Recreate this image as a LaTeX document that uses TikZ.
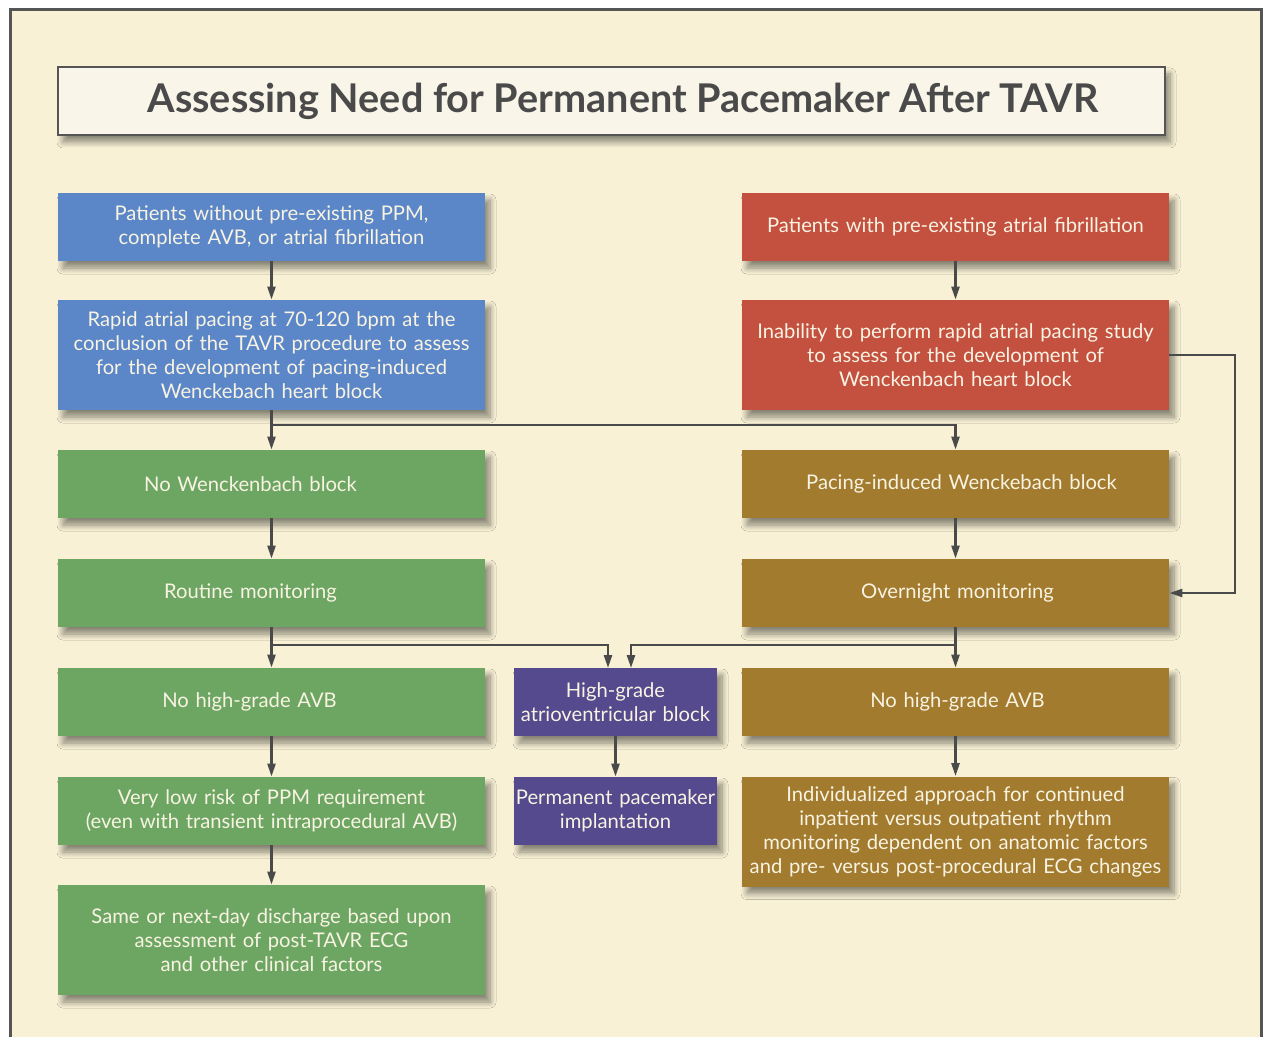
\documentclass[tikz,border=0pt]{standalone}
\usepackage{fontspec}
\setmainfont{Lato}
\usetikzlibrary{arrows.meta,shadows.blur}
\definecolor{bgcream}{HTML}{F8F1D6}
\definecolor{titlefill}{HTML}{FAF5E9}
\definecolor{framegray}{HTML}{555555}
\definecolor{linegray}{HTML}{4A4A4A}
\definecolor{boxtext}{HTML}{F8F3E2}
\definecolor{tavrblue}{HTML}{5B87C8}
\definecolor{tavrred}{HTML}{C4503F}
\definecolor{tavrgreen}{HTML}{6DA663}
\definecolor{tavrbrown}{HTML}{A27B2E}
\definecolor{tavrpurple}{HTML}{544A8D}
\newcommand{\boxfont}{\fontsize{10.1}{12}\selectfont}
\tikzset{
  softshadow/.style={blur shadow={shadow xshift=2.5pt,shadow yshift=-3.5pt,
    shadow blur steps=8,shadow blur radius=3pt,shadow opacity=45}},
  fbox/.style={rectangle,inner xsep=0pt,inner ysep=2pt,align=center,
    text=boxtext,font=\boxfont,minimum height=34pt,text width=213.5pt,softshadow},
  tall/.style={minimum height=55pt},
  narrow/.style={text width=101.5pt},
  bluebox/.style={fbox,fill=tavrblue},
  redbox/.style={fbox,fill=tavrred},
  greenbox/.style={fbox,fill=tavrgreen},
  brownbox/.style={fbox,fill=tavrbrown},
  purplebox/.style={fbox,narrow,fill=tavrpurple},
  link/.style={draw=linegray,line width=1.2pt,-{Triangle[length=6.5pt,width=4pt]}},
  plainlink/.style={draw=linegray,line width=1.2pt}
}
\begin{document}
\begin{tikzpicture}[x=0.5pt,y=-0.5pt]
  \useasboundingbox (0,0) rectangle (1263,1037);
  % paper and frame
  \fill[bgcream] (10,9) rectangle (1262,1037);
  \draw[framegray,line width=1.6pt] (10.5,1040) -- (10.5,9.5) -- (1261.5,9.5) -- (1261.5,1040);

  \node[rectangle,draw=framegray,line width=1pt,fill=titlefill,minimum width=553.5pt,minimum height=34pt,
    text=linegray,font=\fontsize{19.8}{22}\selectfont\bfseries,softshadow]
    (title) at (611.5,101) {\hspace*{11.5pt}\raisebox{-1.5pt}{Assessing Need for Permanent Pacemaker After TAVR}};

  % left branch: pacing study possible
  \node[bluebox] (nopre) at (271.5,227) {Patients without pre-existing PPM,\\complete AVB, or atrial fibrillation};
  \node[bluebox,tall] (rapid) at (271.5,355) {Rapid atrial pacing at 70-120 bpm at the\\conclusion of the TAVR procedure to assess\\for the development of pacing-induced\\Wenckebach heart block};
  \node[greenbox] (nowb) at (271.5,484) {No Wenckenbach block\hspace*{21pt}};
  \node[greenbox] (routine) at (271.5,593) {Routine monitoring\hspace*{21pt}};
  \node[greenbox] (nohgL) at (271.5,702) {No high-grade AVB\hspace*{22pt}};
  \node[greenbox] (lowrisk) at (271.5,811) {Very low risk of PPM requirement\\(even with transient intraprocedural AVB)};
  \node[greenbox,tall] (discharge) at (271.5,940) {Same or next-day discharge based upon\\assessment of post-TAVR ECG\\and other clinical factors};

  % right branch: atrial fibrillation
  \node[redbox] (afib) at (955.5,227) {Patients with pre-existing atrial fibrillation};
  \node[redbox,tall] (unable) at (955.5,355) {Inability to perform rapid atrial pacing study\\to assess for the development of\\Wenckenbach heart block};
  \node[brownbox] (pwb) at (955.5,484) {\hspace*{6pt}Pacing-induced Wenckebach block};
  \node[brownbox] (overnight) at (955.5,593) {\hspace*{2pt}Overnight monitoring};
  \node[brownbox] (nohgR) at (955.5,702) {\hspace*{2pt}No high-grade AVB};
  \node[brownbox,tall] (indiv) at (955.5,831.5) {Individualized approach for continued\\inpatient versus outpatient rhythm\\monitoring dependent on anatomic factors\\and pre- versus post-procedural ECG changes};

  % middle: high-grade block
  \node[purplebox] (hgavb) at (615.5,702) {High-grade\\atrioventricular block};
  \node[purplebox] (ppm) at (615.5,811) {Permanent pacemaker\\implantation};

  \coordinate (splitA) at (271.5,425);
  \coordinate (loopR) at (1235,593);
  \coordinate (splitB) at (271.5,645);
  \coordinate (splitC) at (955.5,645);
  \coordinate (hgInL) at (608,668);
  \coordinate (hgInR) at (631,668);

  \draw[link] (nopre) -- (rapid);
  \draw[plainlink] (rapid.south) -- (splitA);
  \draw[link] (splitA) -- (nowb);
  \draw[link] (splitA) -| (pwb.north);
  \draw[link] (afib) -- (unable);
  \draw[link] (unable.east) -| (loopR) -- (overnight.east);
  \draw[link] (nowb) -- (routine);
  \draw[plainlink] (routine.south) -- (splitB);
  \draw[link] (splitB) -- (nohgL);
  \draw[link] (splitB) -| (hgInL);
  \draw[link] (pwb) -- (overnight);
  \draw[plainlink] (overnight.south) -- (splitC);
  \draw[link] (splitC) -- (nohgR);
  \draw[link] (splitC) -| (hgInR);
  \draw[link] (nohgL) -- (lowrisk);
  \draw[link] (lowrisk) -- (discharge);
  \draw[link] (hgavb) -- (ppm);
  \draw[link] (nohgR) -- (indiv);
\end{tikzpicture}
\end{document}
